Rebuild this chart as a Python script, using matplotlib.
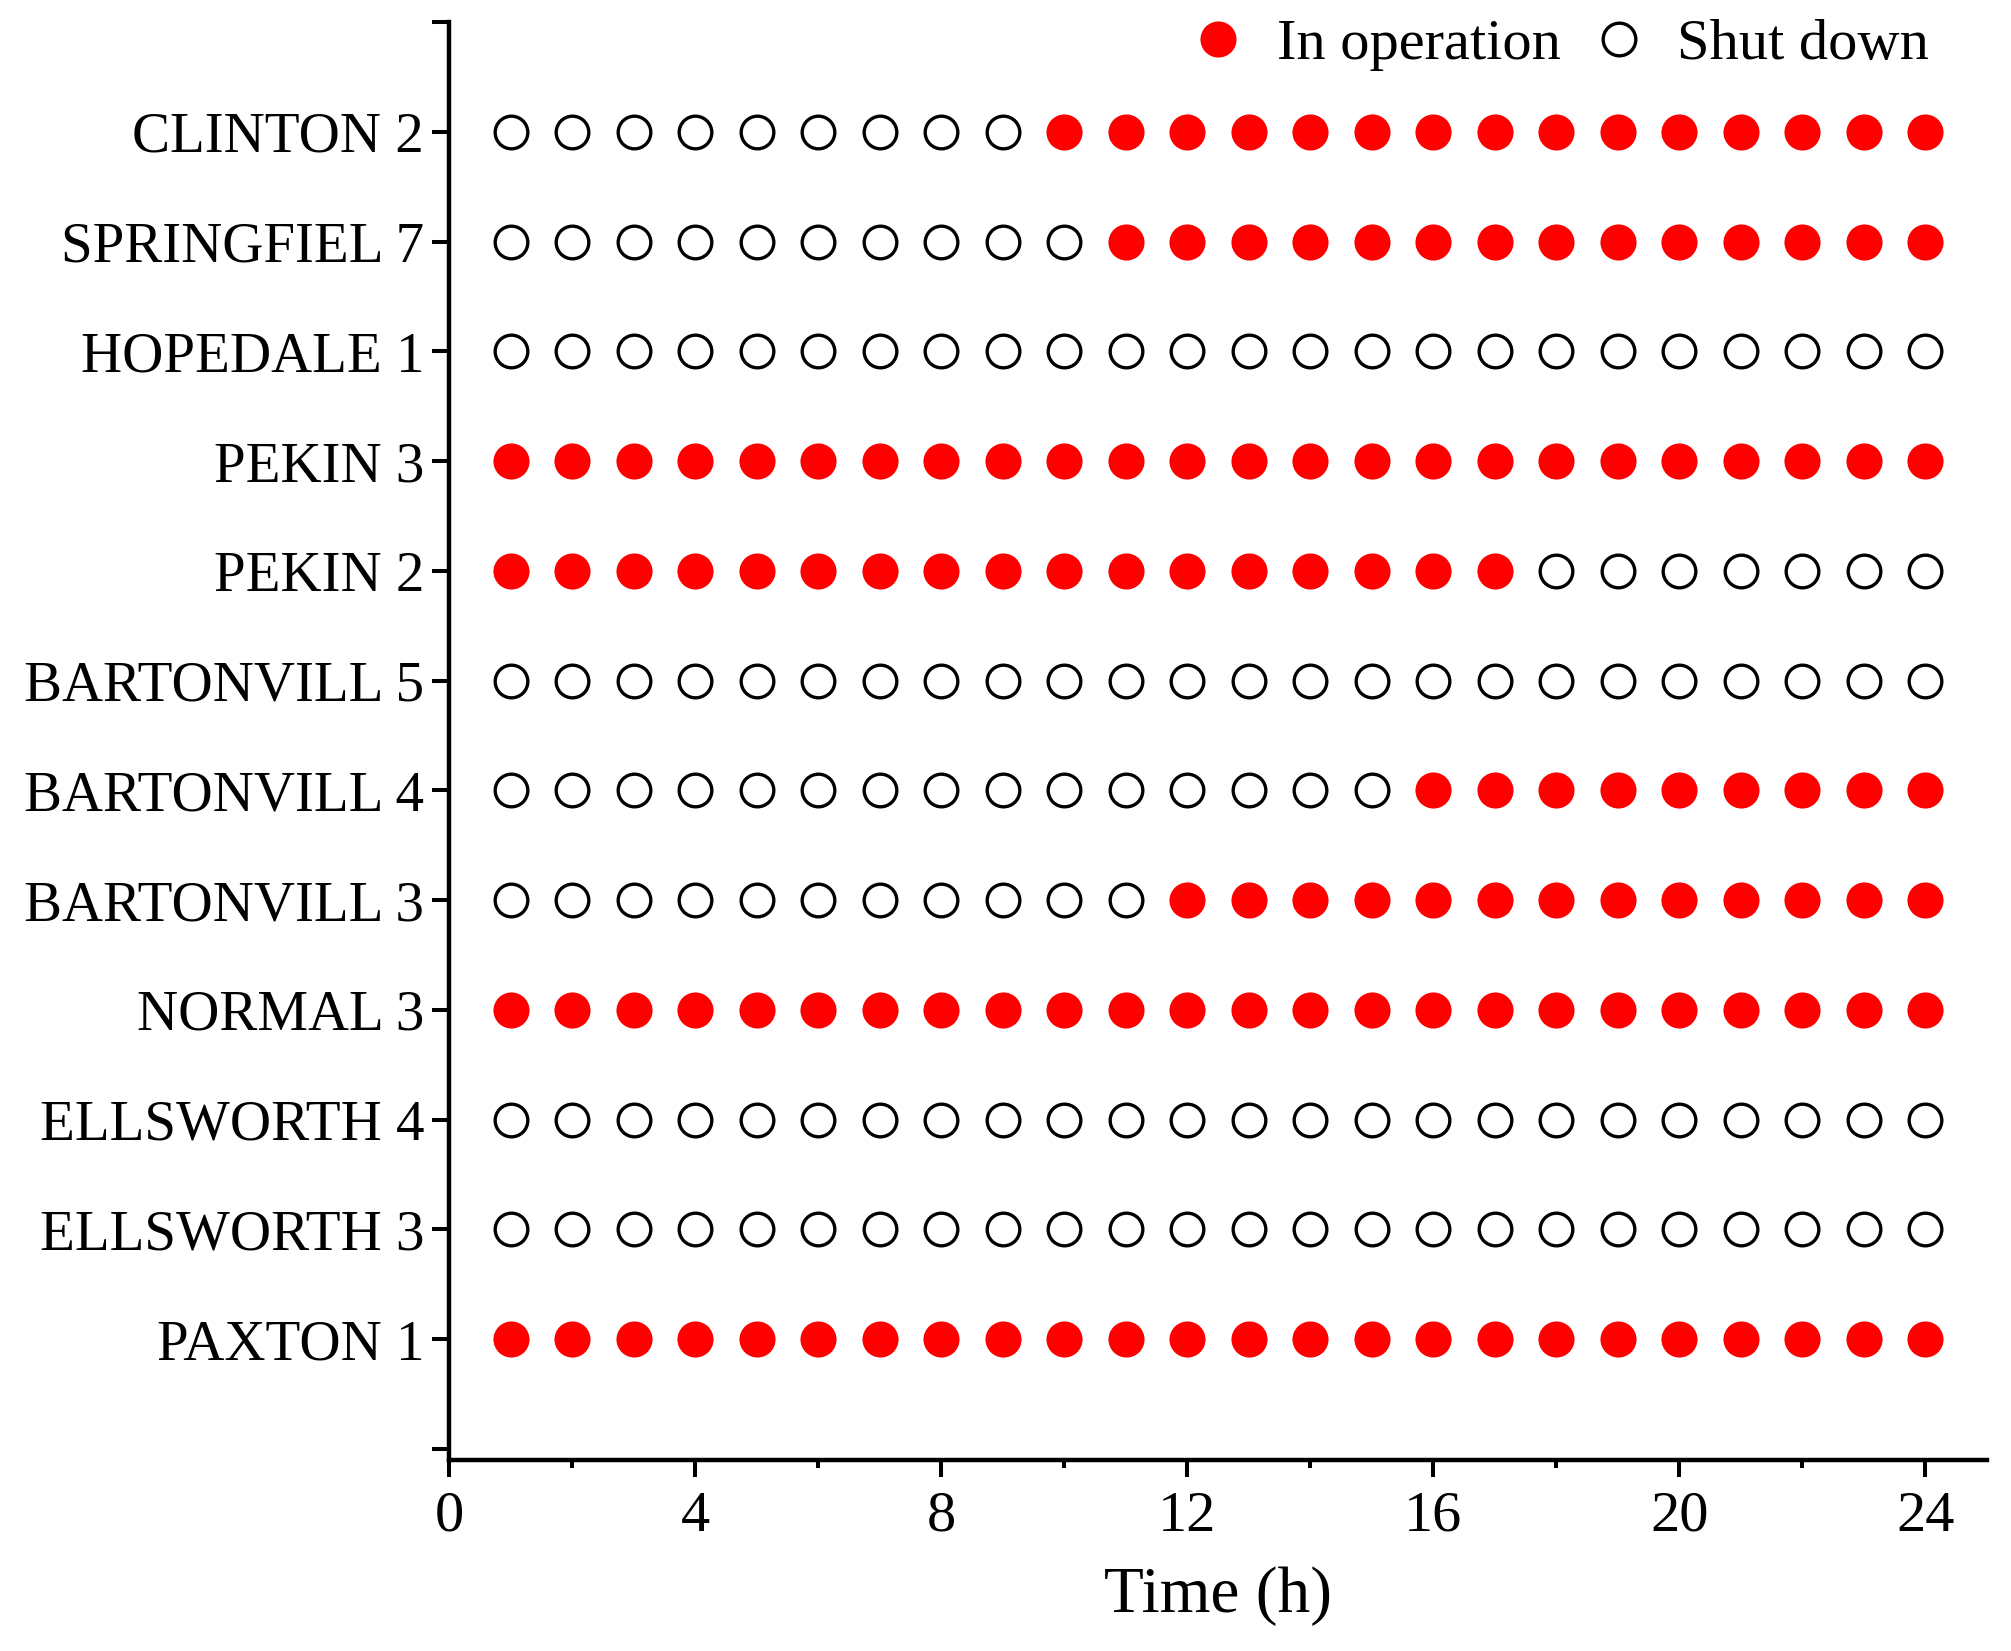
import matplotlib
matplotlib.use('Agg')
import matplotlib.pyplot as plt
from matplotlib.ticker import MultipleLocator
import numpy as np

plt.rcParams['font.family'] = ['Liberation Serif', 'DejaVu Serif']

ON_COLOR = '#FF0000'

# units from bottom to top
units = ['PAXTON 1', 'ELLSWORTH 3', 'ELLSWORTH 4', 'NORMAL 3', 'BARTONVILL 3',
         'BARTONVILL 4', 'BARTONVILL 5', 'PEKIN 2', 'PEKIN 3', 'HOPEDALE 1',
         'SPRINGFIEL 7', 'CLINTON 2']
hours = np.arange(1, 25)

# 1 = in operation, 0 = shut down, hours 1..24
status = [
    '111111111111111111111111',  # PAXTON 1
    '000000000000000000000000',  # ELLSWORTH 3
    '000000000000000000000000',  # ELLSWORTH 4
    '111111111111111111111111',  # NORMAL 3
    '000000000001111111111111',  # BARTONVILL 3
    '000000000000000111111111',  # BARTONVILL 4
    '000000000000000000000000',  # BARTONVILL 5
    '111111111111111110000000',  # PEKIN 2
    '111111111111111111111111',  # PEKIN 3
    '000000000000000000000000',  # HOPEDALE 1
    '000000000011111111111111',  # SPRINGFIEL 7
    '000000000111111111111111',  # CLINTON 2
]

fig = plt.figure(figsize=(20.11, 16.51), dpi=100)
ax = fig.add_axes([0.2233, 0.1157, 0.988 - 0.2233, 0.9867 - 0.1157])

on_x, on_y, off_x, off_y = [], [], [], []
for i, row in enumerate(status):
    for h, s in zip(hours, row):
        if s == '1':
            on_x.append(h); on_y.append(i + 1)
        else:
            off_x.append(h); off_y.append(i + 1)

ax.plot(on_x, on_y, 'o', ls='none', color=ON_COLOR, markersize=26,
        markeredgewidth=0, label='In operation')
ax.plot(off_x, off_y, 'o', ls='none', markerfacecolor='white',
        markeredgecolor='black', markersize=23.5, markeredgewidth=2.4,
        label='Shut down')

ax.set_xlim(0, 25)
ax.set_ylim(-0.1, 13)
ax.xaxis.set_major_locator(MultipleLocator(4))
ax.xaxis.set_minor_locator(MultipleLocator(2))
ax.set_yticks(range(0, 14))
ax.set_yticklabels([''] + units + [''])

for side in ['top', 'right']:
    ax.spines[side].set_visible(False)
for side in ['left', 'bottom']:
    ax.spines[side].set_linewidth(3.2)

ax.tick_params(axis='both', which='major', direction='out', length=12,
               width=2.9, labelsize=41)
ax.tick_params(axis='x', which='major', pad=10, labelsize=42)
ax.tick_params(axis='y', which='major', pad=6)
ax.tick_params(axis='x', which='minor', direction='out', length=6, width=2.9)

ax.set_xlabel('Time (h)', fontsize=47, labelpad=17)

fig.legend(loc='center right', bbox_to_anchor=(1929 / 2011, 1 - 45 / 1651),
           ncol=2, frameon=False, fontsize=42, handlelength=1.0,
           handletextpad=0.5, columnspacing=0.5, borderpad=0,
           borderaxespad=0, numpoints=1)

fig.savefig('out.png', dpi=100)
